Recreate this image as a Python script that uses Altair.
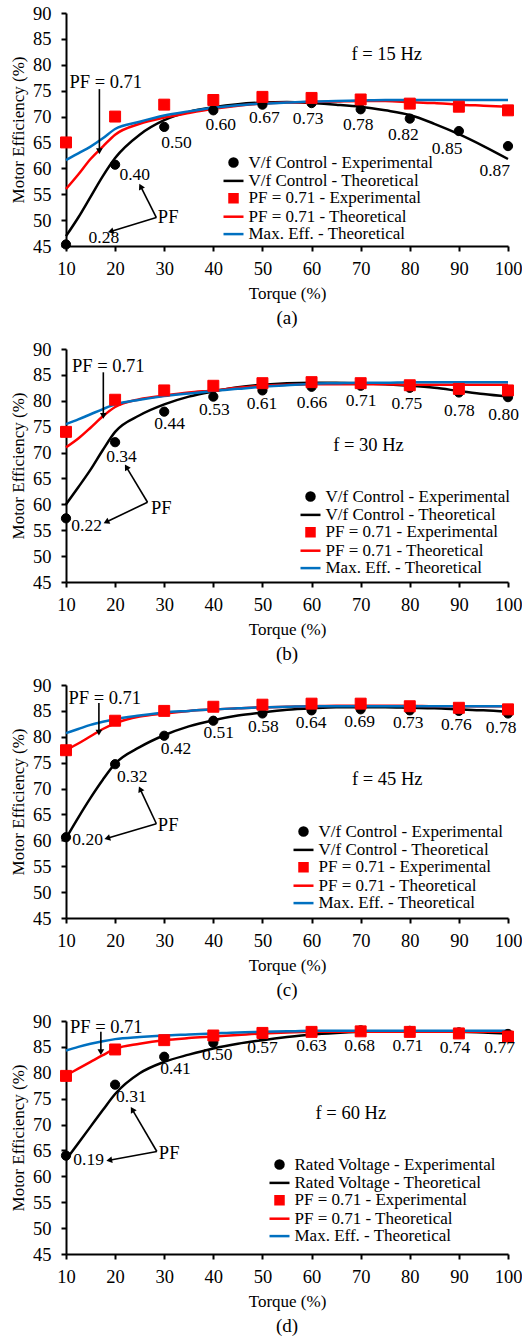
import math
import altair as alt
import pandas as pd

FONT = "Liberation Serif"
BLACK = "#000000"
RED = "#FF0000"
BLUE = "#0070C0"

# ---------------- data ----------------
torque = [10, 20, 30, 40, 50, 60, 70, 80, 90, 100]
torque_th = [10, 12.5, 15, 17.5, 20, 25, 30, 35, 40, 45, 50, 55, 60, 65, 70, 75, 80, 85, 90, 95, 100]
eff_ticks = [45, 50, 55, 60, 65, 70, 75, 80, 85, 90]

names_vf = ["V/f Control - Experimental", "V/f Control - Theoretical",
            "PF = 0.71 - Experimental", "PF = 0.71 - Theoretical", "Max. Eff. - Theoretical"]
names_rv = ["Rated Voltage - Experimental", "Rated Voltage - Theoretical",
            "PF = 0.71 - Experimental", "PF = 0.71 - Theoretical", "Max. Eff. - Theoretical"]

# (a) f = 15 Hz
a_black_exp = [45.3, 60.7, 68.0, 71.2, 72.3, 72.6, 71.4, 69.6, 67.2, 64.3]
a_red_exp = [65.0, 70.0, 72.3, 73.2, 73.8, 73.6, 73.3, 72.5, 71.9, 71.2]
a_black_th = [46.9, 50.5, 54.5, 58.5, 62.0, 66.5, 69.3, 70.9, 71.8, 72.4, 72.7, 72.8, 72.6, 72.3, 71.9, 71.2, 70.3, 68.6, 66.6, 64.3, 61.8]
a_red_th = [56.0, 58.8, 61.8, 64.2, 66.5, 68.6, 69.8, 70.7, 71.5, 72.1, 72.5, 72.7, 72.8, 72.9, 73.0, 73.0, 72.8, 72.6, 72.3, 72.1, 71.9]
a_blue_th = [61.6, 62.9, 64.2, 65.8, 67.6, 69.0, 70.2, 71.0, 71.7, 72.2, 72.5, 72.7, 72.9, 73.0, 73.1, 73.2, 73.2, 73.2, 73.2, 73.2, 73.2]
a_pf = ["0.28", "0.40", "0.50", "0.60", "0.67", "0.73", "0.78", "0.82", "0.85", "0.87"]
a_pf_x = [17.7, 24.0, 32.5, 41.5, 50.4, 59.3, 69.5, 78.7, 87.6, 97.3]
a_pf_y = [46.5, 58.7, 64.9, 68.4, 69.7, 69.5, 68.4, 66.4, 63.8, 59.4]

# (b) f = 30 Hz
b_black_exp = [57.3, 72.0, 77.9, 80.8, 82.0, 82.7, 82.9, 82.5, 81.6, 80.7]
b_red_exp = [74.0, 80.2, 82.0, 82.9, 83.4, 83.6, 83.4, 83.0, 82.3, 82.0]
b_black_th = [60.0, 63.3, 66.7, 70.5, 74.0, 77.2, 79.3, 80.8, 81.8, 82.6, 83.1, 83.4, 83.5, 83.5, 83.4, 83.2, 82.9, 82.5, 81.9, 81.3, 80.8]
b_red_th = [71.0, 72.7, 74.8, 77.0, 78.8, 80.3, 81.0, 81.6, 82.0, 82.5, 82.9, 83.1, 83.2, 83.2, 83.2, 83.2, 83.1, 83.1, 83.1, 83.1, 83.1]
b_blue_th = [75.5, 76.4, 77.4, 78.4, 79.3, 80.2, 80.9, 81.4, 81.9, 82.3, 82.7, 83.0, 83.3, 83.4, 83.5, 83.5, 83.6, 83.6, 83.6, 83.6, 83.6]
b_pf = ["0.22", "0.34", "0.44", "0.53", "0.61", "0.66", "0.71", "0.75", "0.78", "0.80"]
b_pf_x = [14.2, 21.3, 31.1, 40.2, 49.9, 60.1, 70.1, 79.4, 90.1, 99.1]
b_pf_y = [55.9, 69.1, 75.5, 78.3, 79.4, 79.5, 80.0, 79.4, 78.1, 77.3]

# (c) f = 45 Hz
c_black_exp = [60.6, 74.7, 80.2, 83.1, 84.5, 85.1, 85.3, 85.1, 85.0, 84.5]
c_red_exp = [77.4, 83.1, 85.0, 85.8, 86.2, 86.4, 86.4, 85.9, 85.6, 85.3]
c_black_th = [60.4, 64.4, 68.2, 71.7, 74.8, 78.0, 80.3, 82.0, 83.2, 84.1, 84.7, 85.2, 85.5, 85.7, 85.7, 85.7, 85.6, 85.5, 85.3, 85.1, 84.8]
c_red_th = [77.4, 78.7, 80.1, 81.5, 82.6, 83.9, 84.5, 85.0, 85.3, 85.5, 85.7, 85.8, 85.9, 86.0, 86.0, 86.0, 86.0, 85.9, 85.9, 85.9, 85.9]
c_blue_th = [80.7, 81.5, 82.3, 82.9, 83.4, 84.1, 84.7, 85.0, 85.3, 85.5, 85.7, 85.8, 85.9, 85.9, 85.9, 85.9, 85.9, 85.9, 85.9, 85.9, 85.9]
c_pf = ["0.20", "0.32", "0.42", "0.51", "0.58", "0.64", "0.69", "0.73", "0.76", "0.78"]
c_pf_x = [14.4, 23.5, 32.4, 41.1, 50.2, 59.9, 69.8, 79.7, 89.5, 98.6]
c_pf_y = [60.0, 72.2, 77.7, 80.7, 81.8, 82.6, 82.9, 82.6, 82.3, 81.6]

# (d) f = 60 Hz
d_black_exp = [64.0, 77.7, 83.1, 85.8, 87.1, 87.9, 88.2, 88.1, 87.8, 87.5]
d_red_exp = [79.4, 84.5, 86.3, 87.2, 87.7, 87.9, 88.0, 87.9, 87.6, 87.0]
d_black_th = [63.2, 66.4, 69.6, 72.8, 75.9, 79.9, 82.1, 83.5, 84.7, 85.6, 86.3, 86.9, 87.4, 87.7, 87.9, 88.0, 88.0, 88.0, 87.9, 87.8, 87.6]
d_red_th = [79.5, 80.8, 82.1, 83.4, 84.6, 85.6, 86.3, 86.7, 87.0, 87.3, 87.6, 87.8, 87.9, 87.9, 87.9, 87.9, 87.9, 87.9, 87.9, 87.9, 87.9]
d_blue_th = [84.3, 85.0, 85.6, 86.1, 86.5, 86.9, 87.2, 87.4, 87.6, 87.8, 87.9, 88.0, 88.1, 88.1, 88.1, 88.1, 88.1, 88.1, 88.1, 88.1, 88.1]
d_pf = ["0.19", "0.31", "0.41", "0.50", "0.57", "0.63", "0.68", "0.71", "0.74", "0.77"]
d_pf_x = [14.6, 23.3, 32.3, 40.8, 50.0, 60.0, 69.8, 79.6, 89.2, 98.3]
d_pf_y = [63.1, 75.3, 80.8, 83.4, 84.7, 85.1, 85.1, 85.1, 84.7, 84.7]

# annotations (data units): text, x, y
freq_texts = ["f = 15 Hz", "f = 30 Hz", "f = 45 Hz", "f = 60 Hz"]
freq_x = [75.3, 71.6, 75.4, 68.0]
freq_y = [82.1, 71.4, 71.8, 72.2]
pf71_x = [18.1, 18.6, 17.9, 18.2]
pf71_y = [76.6, 86.8, 87.4, 88.9]
pf71_arrow_x = [16.8, 17.6, 16.7, 17.1]
pf71_arrow_from = [75.3, 85.5, 86.5, 87.9]
pf71_arrow_to = [63.3, 77.1, 80.8, 84.0]
pf_text_x = [30.8, 29.4, 30.8, 31.0]
pf_text_y = [50.6, 59.3, 62.9, 64.6]
pf_join_x = [28.4, 26.6, 28.4, 28.5]
pf_join_y = [50.5, 60.4, 63.2, 64.8]
pf_tip1_x = [25.2, 22.3, 25.1, 23.5]
pf_tip1_y = [56.5, 67.2, 69.9, 72.9]
pf_tip2_x = [19.1, 18.2, 18.4, 18.8]
pf_tip2_y = [47.8, 56.6, 60.4, 63.1]

# legend placement (pixels inside each plot area)
legend_x = [159, 236, 229, 205]
legend_y = [141, 139, 138, 135]
captions = ["(a)", "(b)", "(c)", "(d)"]

# ---------------- chart ----------------
W, H = 442, 233
PX_X = W / 90.0
PX_Y = H / 45.0
LINE_SYM = "M-2.5,0L2.5,0"
COLORS = [BLACK, BLACK, RED, RED, BLUE]
SHAPES = ["circle", LINE_SYM, "square", LINE_SYM, LINE_SYM]


def head_angle(x0, y0, x1, y1):
    dx = (x1 - x0) * PX_X
    dy = -(y1 - y0) * PX_Y
    return math.degrees(math.atan2(dx, -dy)) % 360


def panel(i, names, black_exp, red_exp, black_th, red_th, blue_th, pf, pf_x, pf_y):
    xs = alt.Scale(domain=[10, 100], nice=False, zero=False)
    ys = alt.Scale(domain=[45, 90], nice=False, zero=False)
    x_axis = alt.Axis(values=torque, title="Torque (%)", format="d", labelFlush=False,
                      labelOverlap=False, labelPadding=8.5, titlePadding=7.5)
    y_axis = alt.Axis(values=eff_ticks, title="Motor Efficiency (%)", format="d",
                      labelFlush=False, labelOverlap=False, labelPadding=10, titlePadding=5)

    def X(f):
        return alt.X(f, type="quantitative", scale=xs, axis=x_axis)

    def Y(f):
        return alt.Y(f, type="quantitative", scale=ys, axis=y_axis)

    leg = alt.Legend(orient="none", legendX=legend_x[i], legendY=legend_y[i], title=None,
                     labelFont=FONT, labelFontSize=17, labelColor=BLACK, labelLimit=0,
                     labelOffset=6.5, rowPadding=-0.6, symbolSize=64, symbolStrokeWidth=2.5,
                     symbolOpacity=1, symbolFillColor=BLACK, symbolStrokeColor=BLACK)
    stroke_enc = alt.Stroke("series:N", scale=alt.Scale(domain=names, range=COLORS), legend=leg)
    fill_enc = alt.Fill("series:N", scale=alt.Scale(domain=names, range=COLORS), legend=leg)
    shape_enc = alt.Shape("series:N", scale=alt.Scale(domain=names, range=SHAPES), legend=leg)

    n = len(torque_th)
    lines_df = pd.DataFrame({
        "torque": torque_th * 3,
        "eff": black_th + red_th + blue_th,
        "series": [names[1]] * n + [names[3]] * n + [names[4]] * n,
    })
    black_df = pd.DataFrame({"torque": torque, "eff": black_exp, "series": names[0]})
    red_df = pd.DataFrame({"torque": torque, "eff": red_exp, "series": names[2]})

    lines = alt.Chart(lines_df).mark_line(strokeWidth=2.5, interpolate="monotone").encode(
        x=X("torque"), y=Y("eff"), stroke=stroke_enc)
    circles = alt.Chart(black_df).mark_point(filled=True, size=85, opacity=1, strokeWidth=1).encode(
        x=X("torque"), y=Y("eff"), fill=fill_enc, stroke=stroke_enc, shape=shape_enc)
    squares = alt.Chart(red_df).mark_point(filled=True, size=120, opacity=1, strokeWidth=1).encode(
        x=X("torque"), y=Y("eff"), fill=fill_enc, stroke=stroke_enc, shape=shape_enc)

    lab_df = pd.DataFrame({"x": pf_x, "y": pf_y, "t": pf})
    labels = alt.Chart(lab_df).mark_text(font=FONT, fontSize=17.5, color=BLACK).encode(
        x=X("x"), y=Y("y"), text="t:N")

    ann_df = pd.DataFrame({
        "x": [freq_x[i], pf71_x[i], pf_text_x[i]],
        "y": [freq_y[i], pf71_y[i], pf_text_y[i]],
        "t": [freq_texts[i], "PF = 0.71", "PF"],
    })
    ann = alt.Chart(ann_df).mark_text(font=FONT, fontSize=18.5, color=BLACK).encode(
        x=X("x"), y=Y("y"), text="t:N")

    ar_df = pd.DataFrame({
        "x0": [pf71_arrow_x[i], pf_join_x[i], pf_join_x[i]],
        "y0": [pf71_arrow_from[i], pf_join_y[i], pf_join_y[i]],
        "x1": [pf71_arrow_x[i], pf_tip1_x[i], pf_tip2_x[i]],
        "y1": [pf71_arrow_to[i], pf_tip1_y[i], pf_tip2_y[i]],
    })
    ar_df["ang"] = [head_angle(r.x0, r.y0, r.x1, r.y1) for r in ar_df.itertuples()]
    rules = alt.Chart(ar_df).mark_rule(strokeWidth=1.6, color=BLACK).encode(
        x=X("x0"), y=Y("y0"), x2="x1", y2="y1")
    heads = alt.Chart(ar_df).mark_point(shape="triangle-up", filled=True, size=45, opacity=1,
                                        color=BLACK).encode(
        x=X("x1"), y=Y("y1"), angle=alt.Angle("ang:Q", scale=None))

    return alt.layer(lines, circles, squares, labels, ann, rules, heads).properties(
        width=W, height=H,
        title=alt.TitleParams(captions[i], orient="bottom", font=FONT, fontSize=19,
                              fontWeight="normal", color=BLACK, offset=7, anchor="middle"))


pa = panel(0, names_vf, a_black_exp, a_red_exp, a_black_th, a_red_th, a_blue_th, a_pf, a_pf_x, a_pf_y)
pb = panel(1, names_vf, b_black_exp, b_red_exp, b_black_th, b_red_th, b_blue_th, b_pf, b_pf_x, b_pf_y)
pc = panel(2, names_vf, c_black_exp, c_red_exp, c_black_th, c_red_th, c_blue_th, c_pf, c_pf_x, c_pf_y)
pd_ = panel(3, names_rv, d_black_exp, d_red_exp, d_black_th, d_red_th, d_blue_th, d_pf, d_pf_x, d_pf_y)

chart = alt.vconcat(pa, pb, pc, pd_, spacing=103, bounds="flush").resolve_scale(
    fill="independent", stroke="independent", shape="independent"
).configure_view(stroke=None).configure_axis(
    domainColor=BLACK, domainWidth=2, tickColor=BLACK, tickWidth=2, tickSize=5,
    labelFont=FONT, labelFontSize=18.5, labelColor=BLACK,
    titleFont=FONT, titleFontSize=17, titleFontWeight="normal", titleColor=BLACK, grid=False
).properties(padding={"left": 9, "top": 4, "right": 0, "bottom": 0}, background="white")

chart.save("out.html", embed_options={"renderer": "svg", "actions": False})
